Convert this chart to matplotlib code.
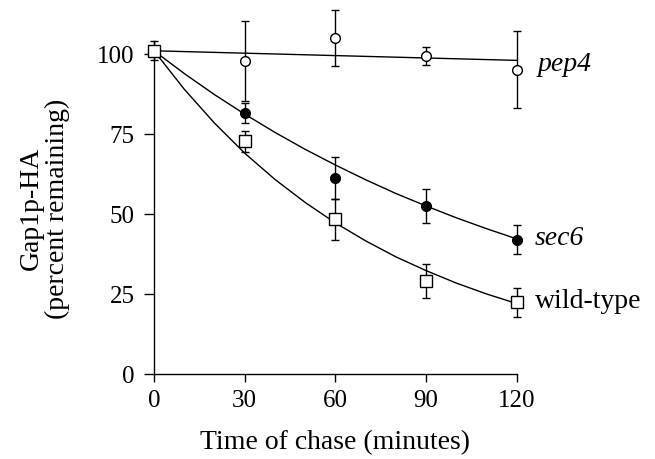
import matplotlib.pyplot as plt

plt.rcParams['font.family'] = ['Liberation Serif', 'DejaVu Serif']

# measured time points (minutes)
time = [0, 30, 60, 90, 120]

# percent remaining
pep4 = [101, 97.7, 105, 99.4, 95.1]
pep4_err = [0, 12.5, 8.8, 2.8, 12]
sec6 = [101, 81.6, 61.3, 52.6, 42]
sec6_err = [0, 3.2, 6.6, 5.3, 4.6]
wt = [101, 72.7, 48.4, 29.2, 22.4]
wt_err = [3, 3.2, 6.4, 5.3, 4.5]

# fitted curves, every 10 min
fit_time = [0, 10, 20, 30, 40, 50, 60, 70, 80, 90, 100, 110, 120]
sec6_fit = [101, 93.9, 87.3, 81.2, 75.5, 70.2, 65.3, 60.7, 56.4, 52.5, 48.8, 45.4, 42.2]
wt_fit = [101, 89.0, 78.4, 69.0, 60.8, 53.6, 47.2, 41.6, 36.6, 32.3, 28.4, 25.0, 22.0]
pep4_fit_time = [0, 120]
pep4_fit = [101, 98]

LABEL_SIZE = 20
TICK_SIZE = 18

fig = plt.figure(figsize=(6.55, 4.6), dpi=100)
ax = fig.add_axes([0.2351, 0.1848, 0.554, 0.7235])

ax.plot(pep4_fit_time, pep4_fit, color='black', lw=1.0)
ax.plot(fit_time, sec6_fit, color='black', lw=1.0)
ax.plot(fit_time, wt_fit, color='black', lw=1.0)

ax.errorbar(time, pep4, yerr=pep4_err, fmt='o', ms=7, mfc='white', mec='black',
            mew=1.0, ecolor='black', elinewidth=1.0, capsize=3, capthick=1.0, zorder=3)
ax.errorbar(time, sec6, yerr=sec6_err, fmt='o', ms=7, mfc='black', mec='black',
            mew=1.0, ecolor='black', elinewidth=1.0, capsize=3, capthick=1.0, zorder=3)
ax.errorbar(time, wt, yerr=wt_err, fmt='s', ms=9, mfc='white', mec='black',
            mew=1.0, ecolor='black', elinewidth=1.0, capsize=3, capthick=1.0, zorder=4)

ax.text(127, 97, 'pep4', fontsize=LABEL_SIZE, style='italic', va='center', ha='left')
ax.text(126, 42.5, 'sec6', fontsize=LABEL_SIZE, style='italic', va='center', ha='left')
ax.text(126, 23, 'wild-type', fontsize=LABEL_SIZE, va='center', ha='left')

ax.set_xlim(0, 120)
ax.set_ylim(0, 104)
ax.set_xticks([0, 30, 60, 90, 120])
ax.set_yticks([0, 25, 50, 75, 100])
ax.tick_params(direction='out', width=1.0, labelsize=TICK_SIZE)
ax.tick_params(axis='x', length=6, pad=5)
ax.tick_params(axis='y', length=7, pad=7)
for side in ['top', 'right']:
    ax.spines[side].set_visible(False)
for side in ['left', 'bottom']:
    ax.spines[side].set_linewidth(1.0)
ax.patch.set_alpha(0)
for art in ax.lines + ax.collections:
    art.set_clip_on(False)

ax.set_xlabel('Time of chase (minutes)', fontsize=LABEL_SIZE, labelpad=13)
fig.text(0.068, 0.546, 'Gap1p-HA\n(percent remaining)', rotation=90, fontsize=LABEL_SIZE,
         ha='center', va='center', linespacing=1.05)

fig.savefig('out.png', dpi=100)
